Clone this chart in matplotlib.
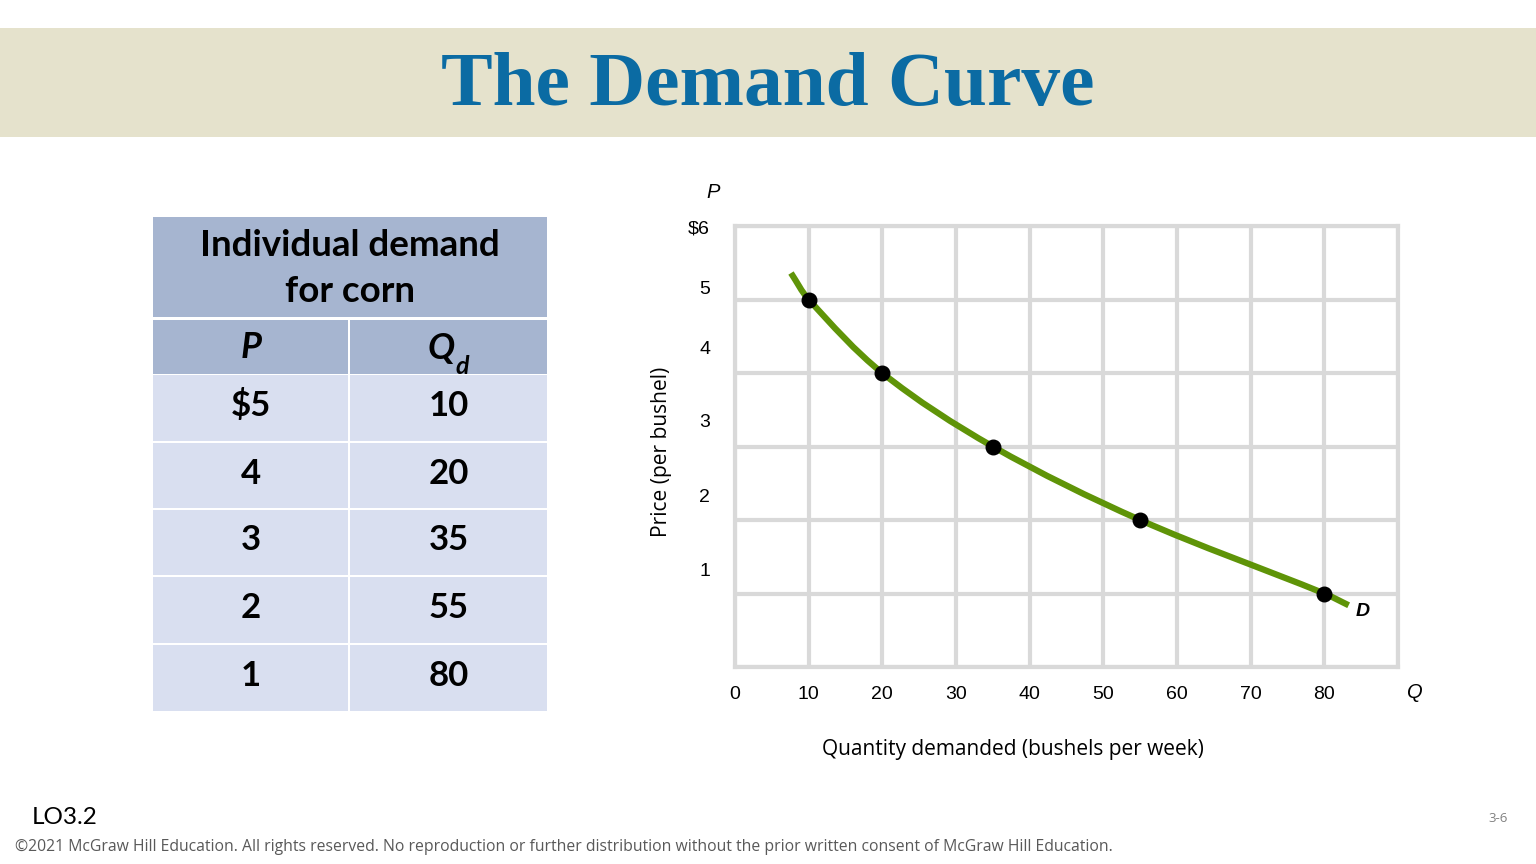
import matplotlib
matplotlib.use("Agg")
import matplotlib.pyplot as plt
from matplotlib.patches import Rectangle, PathPatch
from matplotlib.path import Path

# table / demand schedule data
price_labels = ["$5", "4", "3", "2", "1"]
prices = [5, 4, 3, 2, 1]
quantities = [10, 20, 35, 55, 80]

# extent of the drawn demand curve
curve_start = (7.6, 5.36)
curve_end = (83.3, 0.84)

x_ticks = [0, 10, 20, 30, 40, 50, 60, 70, 80]
y_tick_labels = ["$6", "5", "4", "3", "2", "1"]
# the original slide has the y labels drifted above their gridlines
y_label_pos = [5.99, 5.17, 4.35, 3.35, 2.34, 1.33]

W, H = 1536, 864
fig = plt.figure(figsize=(W / 100, H / 100), dpi=100)
fig.patch.set_facecolor("white")

# slide layer in pixel coordinates
sl = fig.add_axes([0, 0, 1, 1])
sl.set_xlim(0, W)
sl.set_ylim(H, 0)
sl.axis("off")

# title band
sl.add_patch(Rectangle((0, 28), W, 109, color="#e5e2cc", lw=0))
sl.text(768, 86, "The Demand Curve", ha="center", va="center",
        family="Liberation Serif", weight="bold", size=55.7, color="#0b6ba3")

# table
hdr = "#a6b5d0"
cell = "#d9dff0"
tx0, tx1, tmid = 153, 547, 349
sl.add_patch(Rectangle((tx0, 217), tx1 - tx0, 100, color=hdr, lw=0))
sl.add_patch(Rectangle((tx0, 320), tmid - tx0 - 1, 54, color=hdr, lw=0))
sl.add_patch(Rectangle((tmid + 1, 320), tx1 - tmid - 1, 54, color=hdr, lw=0))
row_top = [375, 443, 510, 577, 645]
row_bot = [441, 508, 575, 643, 711]
for i in range(len(prices)):
    sl.add_patch(Rectangle((tx0, row_top[i]), tmid - tx0 - 1, row_bot[i] - row_top[i], color=cell, lw=0))
    sl.add_patch(Rectangle((tmid + 1, row_top[i]), tx1 - tmid - 1, row_bot[i] - row_top[i], color=cell, lw=0))
    yc = (row_top[i] + row_bot[i]) / 2
    sl.text(251, yc - 2, price_labels[i], ha="center", va="center", family="Lato",
            weight="bold", size=25, color="black")
    sl.text(449, yc - 2, str(quantities[i]), ha="center", va="center", family="Lato",
            weight="bold", size=25, color="black")

sl.text(350, 246, "Individual demand", ha="center", va="center", family="Lato",
        weight="bold", size=26.5, color="black")
sl.text(350, 292, "for corn", ha="center", va="center", family="Lato",
        weight="bold", size=26.5, color="black")
sl.text(251, 348, "P", ha="center", va="center", family="Lato", weight="bold",
        style="italic", size=26, color="black")
sl.text(441, 348, "Q", ha="center", va="center", family="Lato", weight="bold",
        style="italic", size=26, color="black")
sl.text(462, 366, "d", ha="center", va="center", family="Lato", weight="bold",
        style="italic", size=18, color="black")

# footer
sl.text(32, 818, "LO3.2", ha="left", va="center", family="Lato", size=17.5, color="black")
sl.text(15, 847, "\u00a92021 McGraw Hill Education. All rights reserved. No reproduction or further "
        "distribution without the prior written consent of McGraw Hill Education.",
        ha="left", va="center", family="Open Sans", size=11.35, color="#595959")
sl.text(1498, 818, "3-6", ha="center", va="center", family="Open Sans", size=9.5, color="#808080")

# chart
ax = fig.add_axes([735 / W, 1 - 667 / H, (1398 - 735) / W, (667 - 226) / H])
ax.set_xlim(0, 90)
ax.set_ylim(0, 6)
ax.set_facecolor("white")
grid_c = "#d9d9d9"
for s in ax.spines.values():
    s.set_color(grid_c)
    s.set_linewidth(3)
ax.xaxis.remove_overlapping_locs = False
ax.yaxis.remove_overlapping_locs = False
ax.set_xticks(x_ticks, [str(v) for v in x_ticks])
ax.set_yticks(y_label_pos, y_tick_labels)
ax.set_xticks(range(0, 91, 10), minor=True)
ax.set_yticks(range(0, 7), minor=True)
ax.grid(which="minor", color=grid_c, linewidth=3)
ax.grid(which="major", visible=False)
ax.tick_params(which="both", length=0)
ax.tick_params(axis="x", pad=14)
ax.tick_params(axis="y", pad=18)
for lab in ax.get_xticklabels() + ax.get_yticklabels():
    lab.set_family("Liberation Sans")
    lab.set_fontsize(14)

# smooth demand curve through the schedule points
# (non-uniform Catmull-Rom as cubic Bezier; chord lengths in roughly screen-scaled units)
pts = [curve_start] + list(zip(quantities, prices)) + [curve_end]
yscale = 10.0


def dist(a, b):
    return ((a[0] - b[0]) ** 2 + ((a[1] - b[1]) * yscale) ** 2) ** 0.5


n = len(pts)
tang = []
for i in range(n):
    if i == 0:
        a, b = pts[0], pts[1]
    elif i == n - 1:
        a, b = pts[n - 2], pts[n - 1]
    else:
        a, b = pts[i - 1], pts[i + 1]
    d = dist(a, b)
    tang.append(((b[0] - a[0]) / d, (b[1] - a[1]) / d))

verts = [pts[0]]
codes = [Path.MOVETO]
for i in range(n - 1):
    p1, p2 = pts[i], pts[i + 1]
    L = dist(p1, p2) / 3
    c1 = (p1[0] + tang[i][0] * L, p1[1] + tang[i][1] * L)
    c2 = (p2[0] - tang[i + 1][0] * L, p2[1] - tang[i + 1][1] * L)
    verts += [c1, c2, p2]
    codes += [Path.CURVE4] * 3
ax.add_patch(PathPatch(Path(verts, codes), fill=False, edgecolor="#5f9408",
                       lw=4.5, capstyle="butt", zorder=3))
ax.scatter(quantities, prices, s=110, color="black", zorder=4)

ax.text(85.2, 0.75, "D", family="Liberation Sans", weight="bold", style="italic",
        size=14, ha="center", va="center")

fig.text(713 / W, 1 - 193 / H, "P", family="Liberation Sans", style="italic",
         size=14.5, ha="center", va="center")
fig.text(1415 / W, 1 - 693 / H, "Q", family="Liberation Sans", style="italic",
         size=14.5, ha="center", va="center")
fig.text(661 / W, 1 - 452 / H, "Price (per bushel)", family="Open Sans", rotation=90,
         size=15.1, ha="center", va="center")
fig.text(1013 / W, 1 - 750 / H, "Quantity demanded (bushels per week)", family="Open Sans",
         size=15, ha="center", va="center")

fig.savefig("out.png", dpi=100)
